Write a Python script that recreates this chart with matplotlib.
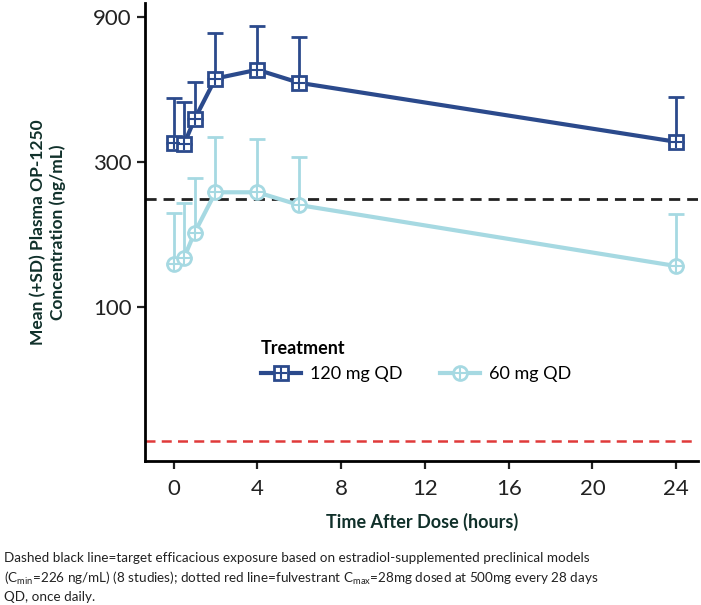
import matplotlib
matplotlib.use("Agg")
import matplotlib.pyplot as plt
from matplotlib.ticker import FixedLocator, NullLocator

plt.rcParams['font.family'] = ['Lato', 'DejaVu Sans']
plt.rcParams['mathtext.fontset'] = 'custom'
plt.rcParams['mathtext.rm'] = 'Lato'
plt.rcParams['mathtext.it'] = 'Lato'

# time after dose (hours)
hours = [0, 0.5, 1, 2, 4, 6, 24]

# mean concentrations (ng/mL) and upper SD
mean_120 = [345, 343, 414, 564, 603, 546, 349]
sd_120 = [143, 129, 135, 233, 235, 229, 140]
mean_60 = [138, 145, 175, 238, 238, 216, 136]
sd_60 = [65, 75, 91, 123, 118, 94, 66]

target_cmin = 226
fulvestrant_cmax = 36

x_ticks = [0, 4, 8, 12, 16, 20, 24]
y_ticks = [100, 300, 900]

dark = '#2b4a8c'
light = '#a6d9e2'
label_col = '#10302a'

fig = plt.figure(figsize=(7.01, 6.05), dpi=100)
ax = fig.add_axes([0.207, 0.238, 0.789, 0.757])

ax.axhline(target_cmin, color='#222222', lw=2, ls=(0, (4, 2.5)), zorder=1)
ax.axhline(fulvestrant_cmax, color='#e03a3a', lw=1.8, ls=(0, (4, 2.5)), zorder=1)

handles = []
for mean, sd, col, mk, lab in [(mean_120, sd_120, dark, 's', '120 mg QD'),
                               (mean_60, sd_60, light, 'o', '60 mg QD')]:
    ax.errorbar(hours, mean, yerr=[[0] * len(sd), sd], fmt='none', ecolor=col,
                elinewidth=2, capsize=5.5, capthick=2, zorder=2)
    ln, = ax.plot(hours, mean, color=col, lw=3, marker=mk, ms=10,
                  mfc='white', mec=col, mew=2, zorder=3)
    pl, = ax.plot(hours, mean, ls='none', marker='+', ms=9, mec=col,
                  mew=1.5, zorder=4)
    handles.append(((ln, pl), lab))

ax.set_yscale('log')
ax.set_ylim(31, 1000)
ax.set_xlim(-1.36, 25.05)
ax.yaxis.set_major_locator(FixedLocator(y_ticks))
ax.yaxis.set_minor_locator(NullLocator())
ax.set_yticklabels([str(v) for v in y_ticks])
ax.set_xticks(x_ticks)

for s in ['top', 'right']:
    ax.spines[s].set_visible(False)
for s in ['left', 'bottom']:
    ax.spines[s].set_linewidth(2)
ax.tick_params(axis='both', length=6, width=1.6, labelsize=16, colors='#222222')
ax.tick_params(axis='x', pad=7)

ax.set_ylabel('Mean (+SD) Plasma OP-1250\nConcentration (ng/mL)', fontsize=12.5,
              fontweight='bold', color=label_col, labelpad=20)
ax.set_xlabel('Time After Dose (hours)', fontsize=13, fontweight='bold',
              color=label_col, labelpad=10)

leg = ax.legend([h for h, _ in handles], [l for _, l in handles], title='Treatment',
                ncol=2, frameon=False, loc='upper left', bbox_to_anchor=(0.18, 0.3),
                fontsize=13, title_fontproperties={'weight': 'bold', 'size': 13},
                handlelength=2.2, handletextpad=0.5, columnspacing=2.1,
                alignment='left')

fig.text(0.005, 0.088,
         'Dashed black line=target efficacious exposure based on estradiol-supplemented preclinical models\n'
         '($\\mathrm{C_{min}}$=226 ng/mL) (8 studies); dotted red line=fulvestrant $\\mathrm{C_{max}}$=28mg dosed at 500mg every 28 days\n'
         'QD, once daily.', fontsize=9.7, va='top', ha='left', color='#222222',
         linespacing=1.45)

fig.savefig('out.png', dpi=100)
